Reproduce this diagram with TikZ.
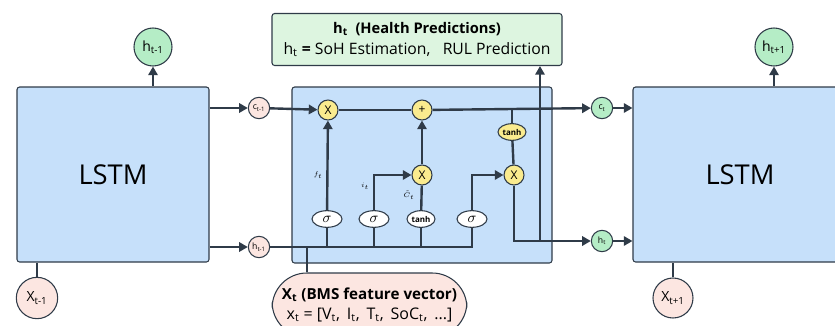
\documentclass[tikz,border=0pt]{standalone}
\usepackage{fontspec}
\setmainfont{Open Sans}
\usetikzlibrary{arrows.meta,shapes.geometric}
\pgfdeclarelayer{back}
\pgfdeclarelayer{wires}
\pgfsetlayers{back,wires,main}
\definecolor{lc}{HTML}{2F3B48}
\definecolor{boxblue}{HTML}{C6E0FA}
\definecolor{gfill}{HTML}{B5EDC6}
\definecolor{gbox}{HTML}{DDF5E0}
\definecolor{pfill}{HTML}{FCE6E1}
\definecolor{yfill}{HTML}{FAEB8E}
\tikzset{
  bigbox/.style={draw=lc, line width=0.8pt, fill=boxblue, rounded corners=2pt, inner sep=0pt},
  ln/.style={draw=lc, line width=1.8pt},
  arr/.style={ln, -{Triangle[length=6.5pt,width=7pt]}},
  bigcirc/.style={circle, draw=lc, line width=0.8pt, minimum size=28.5pt, inner sep=0pt, font=\fontsize{10.5}{12}\selectfont},
  smallcirc/.style={circle, draw=lc, line width=0.8pt, minimum size=16pt, inner sep=0pt, font=\fontsize{6.5}{7}\selectfont},
  gate/.style={circle, draw=lc, line width=0.8pt, fill=yfill, minimum size=15pt, inner sep=0pt, font=\fontsize{9}{10}\selectfont},
  sig/.style={ellipse, draw=lc, line width=0.8pt, fill=white, minimum width=22.5pt, minimum height=12.5pt, inner sep=0pt, font=\fontsize{11}{12}\selectfont},
  tanhbox/.style={ellipse, draw=lc, line width=0.8pt, minimum width=21pt, minimum height=12.5pt, inner sep=0pt, font=\fontsize{6}{7}\selectfont\bfseries},
  lbl/.style={font=\fontsize{5.5}{6}\selectfont, inner sep=0pt}
}
\begin{document}
\begin{tikzpicture}[x=0.75pt,y=-0.75pt]
\useasboundingbox (0,0) rectangle (835,325);
% big boxes
\node[bigbox, minimum width=144pt, minimum height=131.25pt, font=\fontsize{20.5}{24}\selectfont] (L) at (113,174.5) {LSTM};
\begin{pgfonlayer}{back}
\node[bigbox, minimum width=195pt, minimum height=132pt] (C) at (422,175) {};
\node[draw=lc, line width=0.8pt, fill=gbox, rounded corners=2pt, minimum width=217.5pt, minimum height=39pt, inner sep=0pt, align=center] (G) at (417,39.5)
  {{\fontsize{11}{13}\selectfont\textbf{h\textsubscript{t}\ \ (Health Predictions)}}\\[4pt] {\fontsize{11.8}{13}\selectfont h\textsubscript{t} \textbf{=} SoH Estimation,\ \ \ RUL Prediction}};
\end{pgfonlayer}
\node[bigbox, minimum width=160.5pt, minimum height=131.25pt, font=\fontsize{20.5}{24}\selectfont] (R) at (740,174.5) {LSTM};
\node[draw=lc, line width=0.8pt, fill=pfill, rounded corners=26pt, minimum width=146pt, minimum height=48pt, inner sep=0pt, align=center] (Xt) at (369.5,305)
  {{\fontsize{11.4}{14}\selectfont\textbf{X\textsubscript{t} (BMS feature vector)}}\\[3pt]
   {\fontsize{12}{12}\selectfont x\textsubscript{t} = [V\textsubscript{t},\, I\textsubscript{t},\, T\textsubscript{t},\, SoC\textsubscript{t},\, ...]}};
% outer circles
\node[bigcirc, fill=gfill] (hprevtop) at (153,47) {h\textsubscript{t-1}};
\node[bigcirc, fill=gfill] (hnext) at (774,47) {h\textsubscript{t+1}};
\node[bigcirc, fill=pfill, minimum size=31pt] (Xprev) at (37,298) {X\textsubscript{t-1}};
\node[bigcirc, fill=pfill, minimum size=30pt] (Xnext) at (673,298) {X\textsubscript{t+1}};
% small circles
\node[smallcirc, fill=pfill] (cprev) at (259,108) {c\textsubscript{t-1}};
\node[smallcirc, fill=pfill] (hprev) at (259,247) {h\textsubscript{t-1}};
\node[smallcirc, fill=gfill] (ct) at (602,108) {c\textsubscript{t}};
\node[smallcirc, fill=gfill] (ht) at (602,241) {h\textsubscript{t}};
% gates
\node[gate] (fX) at (328,110) {X};
\node[gate] (plus) at (422,110) {+};
\node[gate] (iX) at (422,175) {X};
\node[gate] (oX) at (514,175) {X};
\node[tanhbox, fill=yfill] (tY) at (512,132) {tanh};
\node[sig] (s1) at (327,219) {$\sigma$};
\node[sig] (s2) at (374,219) {$\sigma$};
\node[tanhbox, fill=white] (tW) at (421,219) {tanh};
\node[sig] (s3) at (472,219) {$\sigma$};
\coordinate (j) at (540,241);
\coordinate (xj) at (307,247);
% connectors
\begin{pgfonlayer}{wires}
\draw[arr] (cprev -| L.east) -- (cprev);
\draw[arr] (hprev -| L.east) -- (hprev);
\draw[arr] (cprev) -- (fX);
\draw[ln] (fX) -- (plus);
\draw[arr] (plus) -- (ct);
\draw[arr] (ct) -- (ct -| R.west);
\draw[ln] (tY |- plus) -- (tY);
\draw[ln] (tY) -- (oX);
\draw[ln] (hprev) -- (hprev -| s3) -- (s3);
\draw[ln] (s1 |- hprev) -- (s1);
\draw[ln] (s2 |- hprev) -- (s2);
\draw[ln] (tW |- hprev) -- (tW);
\draw[arr] (s1) -- (fX);
\draw[arr] (s2) |- (iX);
\draw[ln] (tW) -- (iX);
\draw[arr] (iX) -- (plus);
\draw[arr] (s3) |- (oX);
\draw[arr] (oX) |- (ht);
\draw[arr] (ht) -- (ht -| R.west);
\draw[arr] (j) -- (j |- G.south);
\draw[ln] (xj) -- (xj |- Xt.north);
\draw[arr] (hprevtop |- L.north) -- (hprevtop);
\draw[ln] (Xprev) -- (Xprev |- L.south);
\draw[arr] (hnext |- R.north) -- (hnext);
\draw[ln] (Xnext) -- (Xnext |- R.south);
\end{pgfonlayer}
% labels
\node[lbl] (lf) at (318,175) {$f_t$};
\node[lbl] (li) at (365,186) {$i_t$};
\node[lbl] (lC) at (409,195) {$\tilde{C}_t$};
\end{tikzpicture}
\end{document}
